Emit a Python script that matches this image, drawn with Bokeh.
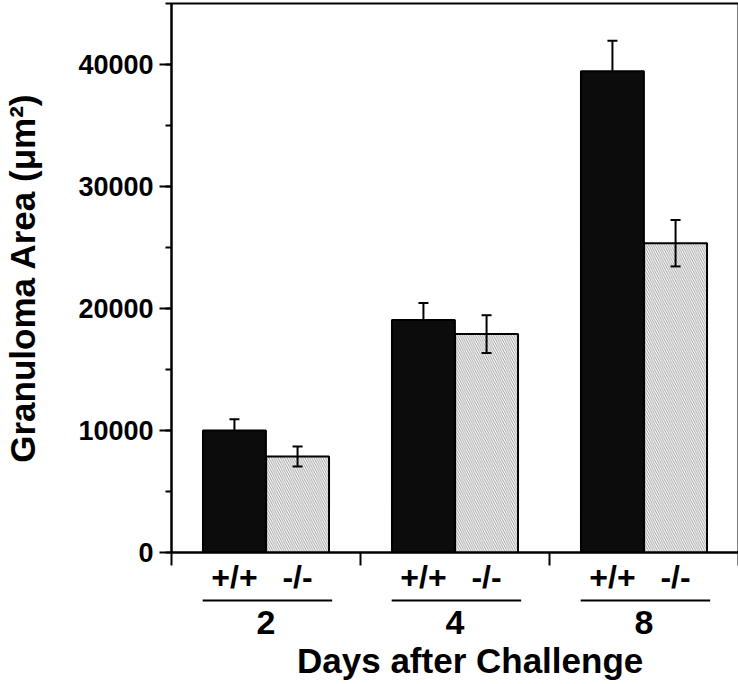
from bokeh.plotting import figure
from bokeh.layouts import column
from bokeh.models import (Range1d, SingleIntervalTicker, FixedTicker, Whisker,
                          TeeHead, ColumnDataSource, CustomJSTickFormatter)
from bokeh.core.properties import value
from bokeh.embed import file_html
from bokeh.resources import INLINE

# ---- data ----
days = ["2", "4", "8"]
genotypes = ["+/+", "-/-"]
wt_mean = [10000, 19050, 39450]
wt_err = [930, 1400, 2500]
ko_mean = [7870, 17900, 25350]
ko_err = [820, 1550, 1900]
y_label = "Granuloma Area (\u03bcm\u00b2)"
x_label = "Days after Challenge"

FONT = "Liberation Sans"

# ---- geometry ----
n = len(days)
frame_w, frame_h = 567, 549
left_border, right_border = 166, 4
top_bottom_border = 46
centers = [i + 0.5 for i in range(n)]
off = 0.167
bar_w = 0.333
x_wt = [c - off for c in centers]
x_ko = [c + off for c in centers]
xr = Range1d(0, n)

# ---- top figure: bars ----
p = figure(frame_width=frame_w, frame_height=frame_h,
           x_range=xr, y_range=Range1d(0, 45000),
           x_axis_location="below", y_axis_location="left",
           output_backend="svg", toolbar_location=None,
           min_border_left=left_border, min_border_right=right_border,
           min_border_top=3, min_border_bottom=top_bottom_border)
p.grid.visible = False
p.outline_line_color = "black"
p.outline_line_width = 2
p.background_fill_color = "white"
p.border_fill_color = "white"

wt_src = ColumnDataSource(dict(x=x_wt, top=wt_mean,
                               lower=wt_mean,
                               upper=[m + e for m, e in zip(wt_mean, wt_err)]))
ko_src = ColumnDataSource(dict(x=x_ko, top=ko_mean,
                               lower=[m - e for m, e in zip(ko_mean, ko_err)],
                               upper=[m + e for m, e in zip(ko_mean, ko_err)]))

p.vbar(x="x", top="top", bottom=0, width=bar_w, source=wt_src,
       fill_color="#0c0c0c", line_color="black", line_width=2)
p.vbar(x="x", top="top", bottom=0, width=bar_w, source=ko_src,
       fill_color="white", hatch_pattern="\\", hatch_color="#707070",
       hatch_scale=4.5, hatch_weight=0.7,
       line_color="black", line_width=2)

p.add_layout(Whisker(source=wt_src, base="x", lower="lower", upper="upper",
                     line_color="black", line_width=2, level="overlay",
                     upper_head=TeeHead(size=10, line_width=2, line_color="black"),
                     lower_head=None))
p.add_layout(Whisker(source=ko_src, base="x", lower="lower", upper="upper",
                     line_color="black", line_width=2, level="overlay",
                     upper_head=TeeHead(size=10, line_width=2, line_color="black"),
                     lower_head=TeeHead(size=10, line_width=2, line_color="black")))

# ---- y axis ----
ya = p.yaxis[0]
ya.ticker = SingleIntervalTicker(interval=10000, num_minor_ticks=2)
ya.axis_line_width = 2
ya.major_tick_line_width = 2
ya.minor_tick_line_width = 2
ya.major_tick_out = 12
ya.major_tick_in = 0
ya.minor_tick_out = 6
ya.minor_tick_in = 0
ya.major_label_standoff = 6
ya.major_label_text_font = FONT
ya.major_label_text_font_style = "bold"
ya.major_label_text_font_size = "27px"
ya.major_label_text_color = "black"
ya.axis_label = y_label
ya.axis_label_text_font = FONT
ya.axis_label_text_font_style = "bold"
ya.axis_label_text_font_size = "35px"
ya.axis_label_text_color = "black"
ya.axis_label_standoff = 33

# ---- x axis: genotype labels at bars, group boundary ticks ----
xa = p.xaxis[0]
bar_ticks = sorted(x_wt + x_ko)
xa.ticker = FixedTicker(ticks=bar_ticks, minor_ticks=list(range(n + 1)))
xa.formatter = CustomJSTickFormatter(args=dict(labels=genotypes),
                                     code="return labels[index % 2];")
xa.axis_line_width = 2
xa.major_tick_out = 0
xa.major_tick_in = 0
xa.minor_tick_line_width = 2
xa.minor_tick_out = 13
xa.minor_tick_in = 0
xa.major_label_standoff = -7
xa.major_label_text_font = FONT
xa.major_label_text_font_style = "bold"
xa.major_label_text_font_size = "32px"
xa.major_label_text_color = "black"

# ---- bottom figure: underlines, day labels, axis title ----
bh = 84
q = figure(frame_width=frame_w, frame_height=bh,
           x_range=xr, y_range=Range1d(bh, 0),
           x_axis_location=None, y_axis_location=None,
           output_backend="svg", toolbar_location=None,
           min_border_left=left_border, min_border_right=right_border,
           min_border_top=0, min_border_bottom=0)
q.grid.visible = False
q.outline_line_color = None

q.segment(x0=[c - 0.335 for c in centers], y0=2,
          x1=[c + 0.35 for c in centers], y1=2,
          line_color="black", line_width=2)
q.text(x=centers, y=24, text=days, text_font=value(FONT),
       text_font_style="bold", text_font_size="34px",
       text_align="center", text_baseline="middle", text_color="black")
q.text(x=[1.58], y=[62], text=[x_label], text_font=value(FONT),
       text_font_style="bold", text_font_size="35px",
       text_align="center", text_baseline="middle", text_color="black")

layout = column(p, q, spacing=0)
open("out.html", "w").write(file_html(layout, INLINE))
